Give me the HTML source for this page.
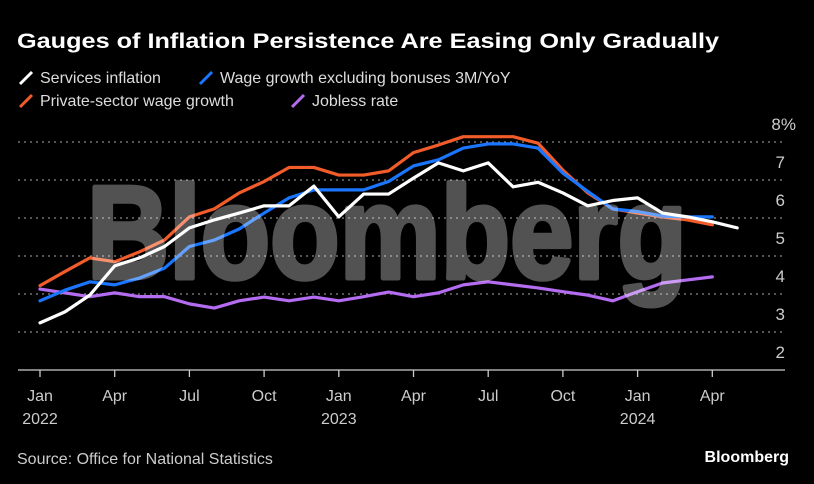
<!DOCTYPE html>
<html><head><meta charset="utf-8"><style>
body{margin:0;background:#000;width:814px;height:484px;overflow:hidden;font-family:"Liberation Sans",sans-serif}
svg{display:block}
</style></head><body>
<svg id="chart" width="814" height="484">
<rect width="814" height="484" fill="#000"/>
<text x="17" y="48" fill="#fff" font-size="21" font-weight="bold" textLength="702" lengthAdjust="spacingAndGlyphs">Gauges of Inflation Persistence Are Easing Only Gradually</text>
<g font-size="16" fill="#ddd">
<g><line x1="20" y1="84" x2="32" y2="72" stroke="#fff" stroke-width="3"/><text x="40" y="83">Services inflation</text></g>
<g><line x1="200" y1="84" x2="212" y2="72" stroke="#1a75ff" stroke-width="3"/><text x="220" y="83">Wage growth excluding bonuses 3M/YoY</text></g>
<g><line x1="20" y1="107" x2="32" y2="95" stroke="#f25c2a" stroke-width="3"/><text x="40" y="106">Private-sector wage growth</text></g>
<g><line x1="292" y1="107" x2="304" y2="95" stroke="#b46cf0" stroke-width="3"/><text x="312" y="106">Jobless rate</text></g>
</g>
<g id="grid"></g>
<g id="series"></g>
<g opacity="0.32">
<text x="87" y="278" fill="#fff" stroke="#fff" stroke-width="5" stroke-linejoin="round" font-size="132" font-weight="bold" textLength="600" lengthAdjust="spacingAndGlyphs">Bloomberg</text>
</g>
<g id="xaxis"></g>
<text x="17" y="464" fill="#ccc" font-size="16">Source: Office for National Statistics</text>
<text x="789" y="462" fill="#fff" font-size="16" font-weight="bold" text-anchor="end">Bloomberg</text>
</svg>
<script>
const yTicks=[2,3,4,5,6,7,8];
const xTickLabels=["Jan","Apr","Jul","Oct","Jan","Apr","Jul","Oct","Jan","Apr"];
const xYearLabels=["2022","","","","2023","","","","2024",""];
const services=[3.24,3.53,3.97,4.74,4.95,5.25,5.74,5.95,6.13,6.32,6.32,6.84,6.03,6.63,6.63,7.05,7.45,7.24,7.45,6.82,6.94,6.66,6.32,6.46,6.53,6.13,6.03,5.9,5.74];
const privateWage=[4.22,4.59,4.95,4.85,5.11,5.42,6.03,6.24,6.66,6.96,7.33,7.33,7.13,7.13,7.24,7.72,7.92,8.14,8.14,8.14,7.97,7.26,6.66,6.24,6.13,6.03,5.95,5.82];
const wageExBonus=[3.82,4.1,4.32,4.24,4.42,4.68,5.25,5.42,5.71,6.13,6.53,6.74,6.74,6.74,6.96,7.37,7.53,7.84,7.95,7.95,7.84,7.18,6.7,6.24,6.17,6.05,6.03,6.03];
const jobless=[4.13,4.03,3.93,4.03,3.93,3.93,3.74,3.63,3.82,3.92,3.82,3.92,3.82,3.93,4.05,3.93,4.03,4.24,4.32,4.24,4.16,4.06,3.97,3.82,4.06,4.29,4.37,4.45];
const NS="http://www.w3.org/2000/svg";
const x=m=>40+m*24.9;
const y=v=>370-(v-2)*38;
function mk(t,a,p){const e=document.createElementNS(NS,t);for(const k in a)e.setAttribute(k,a[k]);p.appendChild(e);return e;}
const grid=document.getElementById('grid');
yTicks.forEach(v=>{
  if(v>2){const l=mk('line',{x1:18,x2:785,y1:y(v),y2:y(v),stroke:'#888','stroke-width':1.3,'stroke-dasharray':'2 4'},grid);
  
  }
  const t=mk('text',{x:v==8?796:785,y:y(v)-12,fill:'#ccc','font-size':17,'text-anchor':'end'},grid);
  t.textContent=v==8?'8%':String(v);
  
  
});
const xa=document.getElementById('xaxis');
const ax=mk('line',{x1:18,x2:785,y1:370,y2:370,stroke:'#ccc','stroke-width':1.3},xa);


xTickLabels.forEach((lab,i)=>{
  const px=x(i*3);
  const tk=mk('line',{x1:px,x2:px,y1:370,y2:377,stroke:'#ccc','stroke-width':1.3},xa);
  
  
  const t=mk('text',{x:px,y:401,fill:'#ccc','font-size':16,'text-anchor':'middle'},xa);
  t.textContent=lab;
  
  
  if(xYearLabels[i]){const t2=mk('text',{x:px,y:424,fill:'#ccc','font-size':16,'text-anchor':'middle'},xa);
  t2.textContent=xYearLabels[i];
  
  }
});
const sg=document.getElementById('series');
function line(data,color,name){
  const p=mk('polyline',{points:data.map((v,i)=>x(i)+','+y(v)).join(' '),fill:'none',stroke:color,'stroke-width':3.2,'stroke-linejoin':'round','stroke-linecap':'round'},sg);
  
  
}
line(jobless,'#b46cf0','jobless-rate-line');
line(privateWage,'#f25c2a','private-sector-wage-line');
line(wageExBonus,'#1a75ff','wage-growth-ex-bonus-line');
line(services,'#ffffff','services-inflation-line');
</script>
</body></html>
